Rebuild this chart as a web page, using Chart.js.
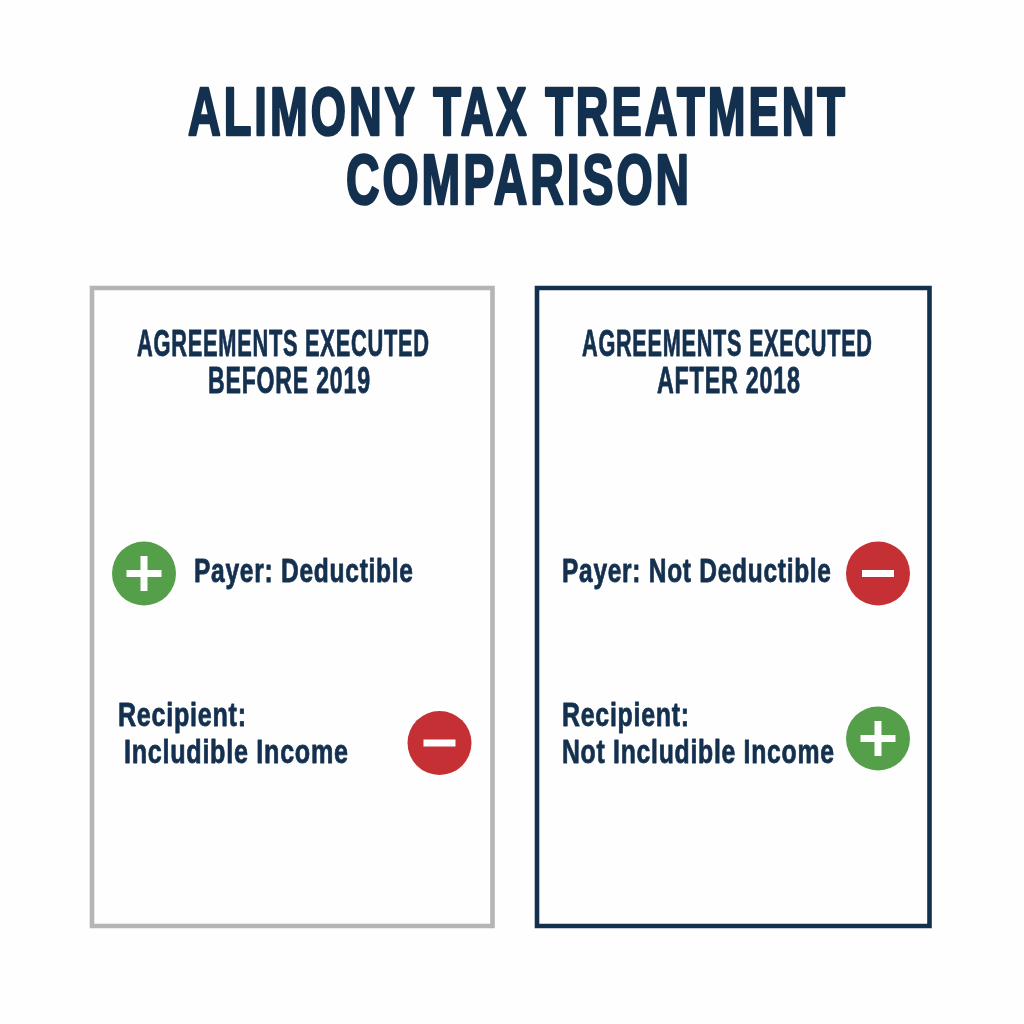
<!DOCTYPE html>
<html>
<head>
<meta charset="utf-8">
<title>Alimony Tax Treatment Comparison</title>
<script src="https://cdn.jsdelivr.net/npm/chart.js@4"></script>
<style>
  html, body { margin: 0; padding: 0; background: #fefefe; }
  #wrap { width: 1024px; height: 1024px; }
</style>
</head>
<body>
<div id="wrap"><canvas id="chart" width="1024" height="1024"></canvas></div>
<script>
// --- content ---
const titleLines = ['ALIMONY TAX TREATMENT', 'COMPARISON'];
const periods = [['AGREEMENTS EXECUTED', 'BEFORE 2019'], ['AGREEMENTS EXECUTED', 'AFTER 2018']];
const payerLabels = ['Payer: Deductible', 'Payer: Not Deductible'];
const recipientLabels = [['Recipient:', 'Includible Income'], ['Recipient:', 'Not Includible Income']];
const payerSigns = [1, -1];
const recipientSigns = [-1, 1];

// icon centres, in the 0-1024 units of the two hidden axes
const payerIconX = [144, 878];
const payerIconY = [573.5, 573.5];
const recipientIconX = [439.5, 878];
const recipientIconY = [743, 738.5];

// panel frames in the same units
const panelLeft = [92, 537];
const panelRight = [492.5, 929.5];
const panelTop = 288;
const panelBottom = 926;

const NAVY = '#14304f';
const GREEN = '#569f4a';
const RED = '#c43034';
const GREY = '#b5b5b5';
const FONT = '"Liberation Sans Narrow", "Liberation Sans", sans-serif';

// text lines: string, left, right, baseline, size, extra stroke, tracking
const textRows = [
    [titleLines[0], 188, 845, 134.5, 68, 2.6, 4.5],
    [titleLines[1], 346, 689, 204, 70, 2.6, 4.5],
    [periods[0][0], 137, 429, 356, 36, 0.8, 1.2],
    [periods[0][1], 208, 370, 393, 36, 0.8, 1.2],
    [periods[1][0], 582, 872, 356, 36, 0.8, 1.2],
    [periods[1][1], 657, 800, 393, 36, 0.8, 1.2],
    [payerLabels[0], 194, 413, 582, 34, 0.8, 1],
    [payerLabels[1], 562, 831, 582, 34, 0.8, 1],
    [recipientLabels[0][0], 118, 246, 726, 34, 0.8, 1],
    [recipientLabels[0][1], 124, 348, 763, 34, 0.8, 1],
    [recipientLabels[1][0], 562, 689, 726, 34, 0.8, 1],
    [recipientLabels[1][1], 562, 834, 763, 34, 0.8, 1]
];

// points of both rows, split by sign
const icons = [];
periods.forEach((p, i) => {
    icons.push({ x: payerIconX[i], y: payerIconY[i], sign: payerSigns[i] });
    icons.push({ x: recipientIconX[i], y: recipientIconY[i], sign: recipientSigns[i] });
});
const plus = icons.filter(d => d.sign > 0);
const minus = icons.filter(d => d.sign < 0);

function frame(i) {
    return [
        { x: panelLeft[i], y: panelTop }, { x: panelRight[i], y: panelTop },
        { x: panelRight[i], y: panelBottom }, { x: panelLeft[i], y: panelBottom },
        { x: panelLeft[i], y: panelTop }
    ];
}

const frameSet = (i, color) => ({
    data: frame(i), showLine: true, fill: false, borderColor: color, borderWidth: 4.6,
    borderJoinStyle: 'miter', borderCapStyle: 'square', pointRadius: 0, tension: 0, order: 4
});
const discSet = (data, color) => ({
    data, pointRadius: 32, pointBackgroundColor: color, pointBorderWidth: 0, showLine: false, order: 3
});
const glyphSet = (data, style, size) => ({
    data, pointStyle: style, pointRadius: size, pointBorderColor: '#ffffff',
    pointBackgroundColor: '#ffffff', pointBorderWidth: 7, showLine: false, order: 1
});

// text is squeezed to the width it has in the picture
const textPlugin = {
    id: 'textRows',
    afterDatasetsDraw(chart) {
        const { ctx, scales: { x, y } } = chart;
        textRows.forEach(([str, left, right, base, size, stroke, track]) => {
            const px = x.getPixelForValue(left);
            const py = y.getPixelForValue(base);
            const want = x.getPixelForValue(right) - px;
            ctx.save();
            ctx.font = 'bold ' + size + 'px ' + FONT;
            ctx.letterSpacing = track + 'px';
            ctx.textBaseline = 'alphabetic';
            const w = ctx.measureText(str).width - track;
            ctx.translate(px, py);
            ctx.scale(want / w, 1);
            ctx.fillStyle = NAVY;
            ctx.strokeStyle = NAVY;
            ctx.lineWidth = stroke;
            ctx.lineJoin = 'round';
            ctx.fillText(str, 0, 0);
            ctx.strokeText(str, 0, 0);
            ctx.restore();
        });
    }
};

new Chart(document.getElementById('chart').getContext('2d'), {
    type: 'scatter',
    data: {
        datasets: [
            frameSet(0, GREY),
            frameSet(1, NAVY),
            discSet(plus, GREEN),
            discSet(minus, RED),
            glyphSet(plus, 'cross', 17.5),
            glyphSet(minus, 'line', 16)
        ]
    },
    options: {
        responsive: false,
        animation: false,
        layout: { padding: 0, autoPadding: false },
        plugins: { legend: { display: false }, tooltip: { enabled: false }, title: { display: false } },
        scales: {
            x: { type: 'linear', min: 0, max: 1024, display: false },
            y: { type: 'linear', min: 0, max: 1024, reverse: true, display: false }
        }
    },
    plugins: [textPlugin]
});
</script>
</body>
</html>
